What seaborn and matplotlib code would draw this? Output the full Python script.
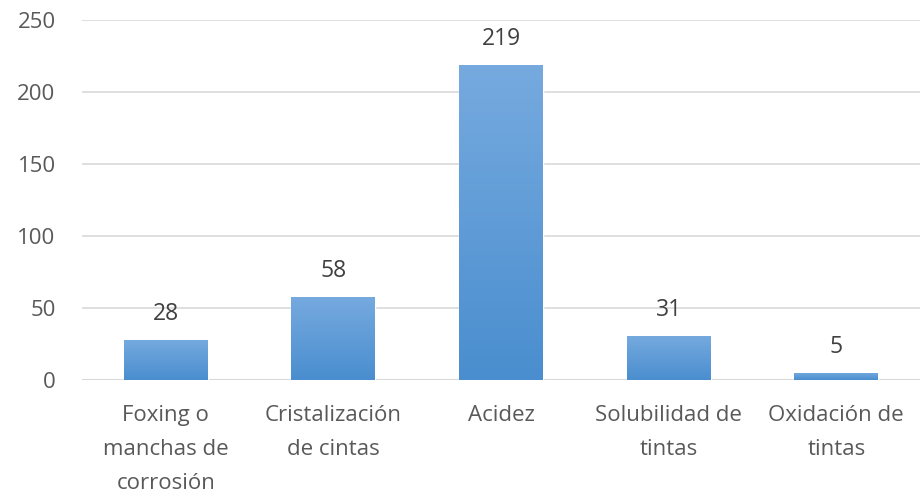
import numpy as np
import pandas as pd
import matplotlib
matplotlib.use("Agg")
import matplotlib.pyplot as plt
import seaborn as sns
from matplotlib.colors import LinearSegmentedColormap

categorias = ["Foxing o\nmanchas de\ncorrosión", "Cristalización\nde cintas", "Acidez",
              "Solubilidad de\ntintas", "Oxidación de\ntintas"]
valores = [28, 58, 219, 31, 5]

df = pd.DataFrame({"categoria": categorias, "valor": valores})

sns.set_style("white")
plt.rcParams["font.family"] = ["Open Sans", "DejaVu Sans"]

fig = plt.figure(figsize=(9.21, 4.97), dpi=100)
ax = fig.add_axes([0.089, 0.235, 0.910, 0.725])

sns.barplot(data=df, x="categoria", y="valor", color="#5B9BD5", width=0.5, ax=ax, zorder=3)

# Degradado vertical en cada barra
grad = LinearSegmentedColormap.from_list("g", ["#4A8ECF", "#76AADF"])
for p in ax.patches:
    x0, y0 = p.get_x(), p.get_y()
    w, h = p.get_width(), p.get_height()
    img = ax.imshow(np.linspace(0, 1, 100).reshape(-1, 1), cmap=grad, origin="lower",
                    extent=[x0, x0 + w, y0, y0 + h], aspect="auto", zorder=4)
    img.set_clip_path(p)
    ax.text(x0 + w / 2, y0 + h + 9.5, f"{int(h)}", ha="center", va="bottom",
            fontsize=16.5, color="#404040", zorder=5)

ax.set_xlim(-0.5, 4.5)
ax.set_ylim(0, 250)
ax.set_yticks([0, 50, 100, 150, 200, 250])
ax.yaxis.grid(True, color="#D9D9D9", linewidth=1.2, zorder=0)
ax.set_axisbelow(True)
sns.despine(ax=ax, left=True, bottom=True, top=True, right=True)
ax.axhline(0, color="#D9D9D9", linewidth=1.5, zorder=2)
ax.tick_params(axis="both", length=0, labelsize=16, labelcolor="#595959")
ax.tick_params(axis="y", pad=19)
ax.tick_params(axis="x", pad=18)
for lbl in ax.get_xticklabels():
    lbl.set_linespacing(1.8)
ax.set_xlabel("")
ax.set_ylabel("")

fig.savefig("out.png", dpi=100, facecolor="white")
